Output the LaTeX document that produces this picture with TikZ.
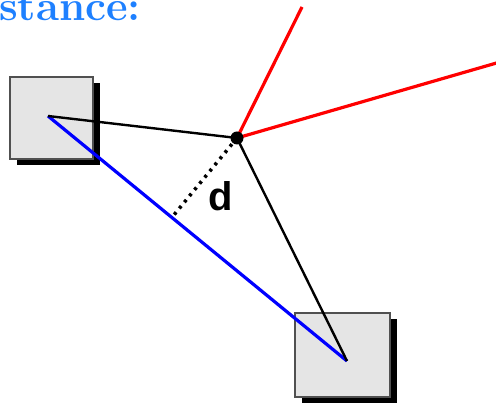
\documentclass[tikz,border=0pt]{standalone}
\usepackage{fontspec}
\newfontfamily\labelfont{Liberation Sans}
\usetikzlibrary{shadows,calc}
\definecolor{titleblue}{RGB}{30,128,255}
\definecolor{boxgray}{RGB}{229,229,229}
\definecolor{edgegray}{RGB}{80,80,80}

\begin{document}
\begin{tikzpicture}[
  x=1pt, y=-1pt,
  box/.style={draw=edgegray, line width=1.3pt, fill=boxgray, inner sep=0pt,
    drop shadow={shadow xshift=7pt, shadow yshift=-6pt, fill=black, opacity=1}},
  link/.style={line width=2.4pt, black},
  ray/.style={line width=3.2pt, red},
  base/.style={line width=3.2pt, blue}
]
\useasboundingbox (0,0) rectangle (496,403);
\clip (0,0) rectangle (496,403);

\node[anchor=base west, text=titleblue, font=\fontsize{42}{42}\selectfont\bfseries, inner sep=0pt]
  (title) at (-50.5,21) {Distance:};

\node[box, minimum width=83pt, minimum height=82pt] (boxA) at (51.5,118) {};
\node[box, minimum width=95pt, minimum height=84pt] (boxB) at (342.5,355) {};

\coordinate (A) at (48,116);
\coordinate (B) at (347,361);
\coordinate (P) at (237,138);
\coordinate (r1) at (302,7);
\coordinate (r2) at (500,62);
\coordinate (F) at ($(A)!(P)!(B)$);

\draw[base] (A) -- (B);
\draw[link] (A) -- (P);
\draw[link] (P) -- (B);
\draw[ray] (P) -- (r1);
\draw[ray] (P) -- (r2);
\draw[line width=3.5pt, dash pattern=on 3pt off 5pt] (P) -- (F);
\fill (P) circle (6.5);

\node[font=\labelfont\fontsize{40}{40}\selectfont\bfseries, inner sep=0pt] (d) at (221,196) {d};
\end{tikzpicture}
\end{document}
